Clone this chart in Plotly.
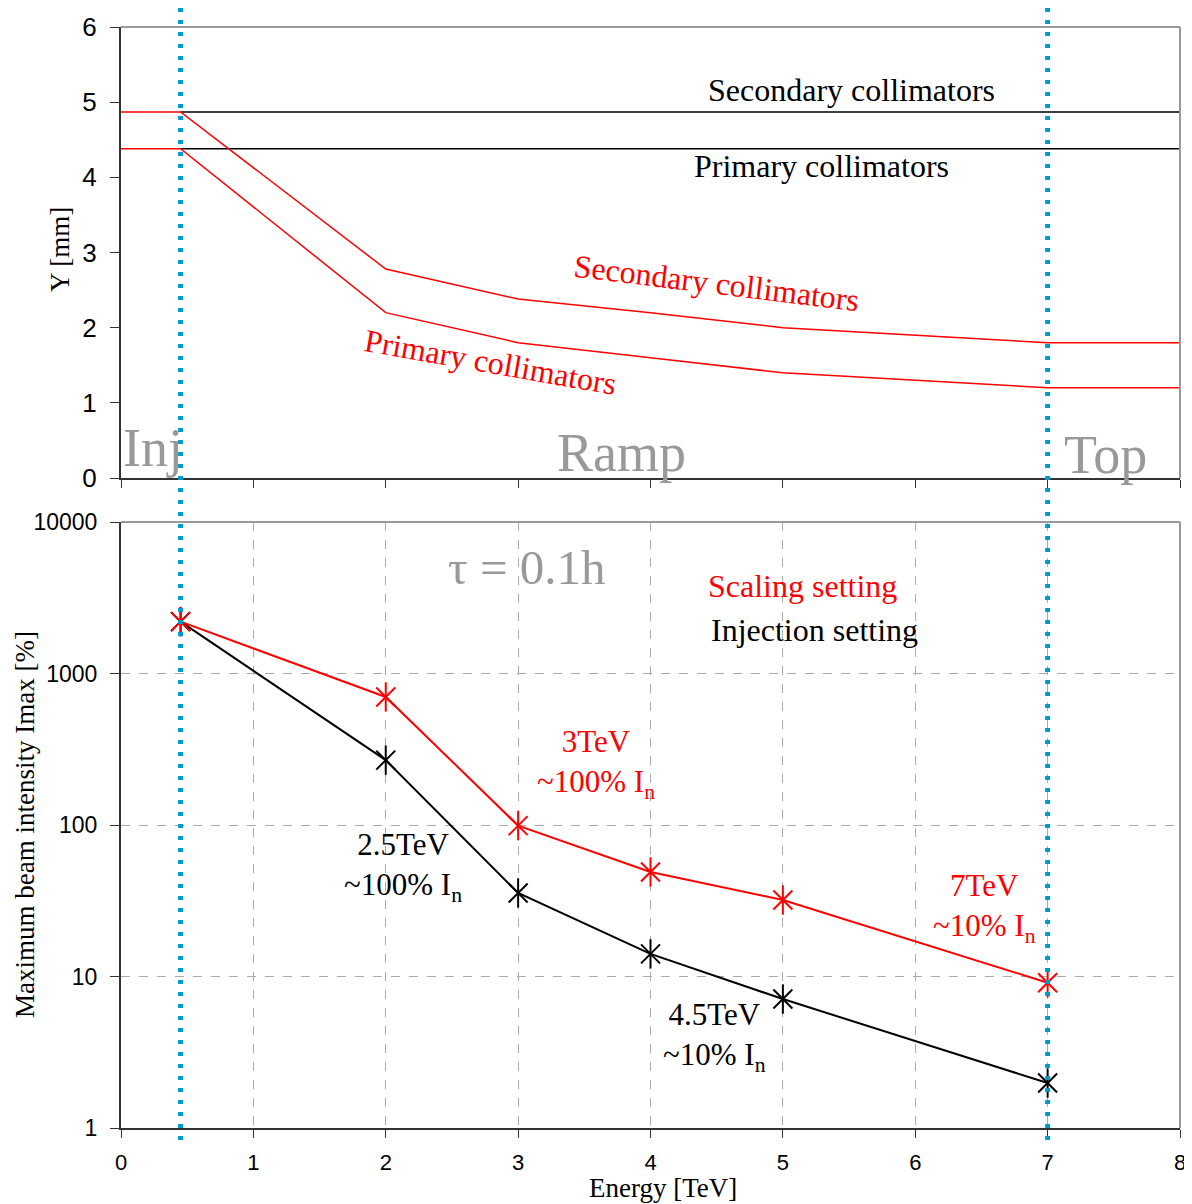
import plotly.graph_objects as go
from plotly.subplots import make_subplots

# ---- data ----
energy_top = [0, 0.45, 2, 3, 4, 5, 7, 8]
sec_scaling = [4.87, 4.87, 2.78, 2.38, 2.2, 2.0, 1.8, 1.8]
prim_scaling = [4.38, 4.38, 2.2, 1.8, 1.6, 1.4, 1.2, 1.2]
energy_inj = [0.45, 8]
sec_inj = [4.87, 4.87]
prim_inj = [4.38, 4.38]

energy = [0.45, 2, 3, 4, 5, 7]
imax_scaling = [2200, 700, 99, 49, 32, 9.1]
imax_injection = [2200, 268, 35.6, 14.1, 7.1, 1.98]

y_top_ticks = [0, 1, 2, 3, 4, 5, 6]
y_bot_ticks = [1, 10, 100, 1000, 10000]
y_bot_labels = ["1", "10", "100", "1000", "10000"]
x_ticks = [0, 1, 2, 3, 4, 5, 6, 7, 8]
phase_lines = [0.45, 7]

SERIF = "Liberation Serif"
SANS = "Liberation Sans"
RED = "#ff0000"
GRAY = "#999999"
BLUE = "#0099cc"
OX, OY = 8, 8  # page body offset
W, H = 1192 - OX, 1204 - OY


def px(x):
    return (x - OX) / W


def py(y):
    return 1 - (y - OY) / H


fig = make_subplots(rows=2, cols=1)

# top panel
fig.add_trace(go.Scatter(x=energy_inj, y=sec_inj, mode="lines",
                         line=dict(color="black", width=1.5)), row=1, col=1)
fig.add_trace(go.Scatter(x=energy_inj, y=prim_inj, mode="lines",
                         line=dict(color="black", width=1.5)), row=1, col=1)
fig.add_trace(go.Scatter(x=energy_top, y=sec_scaling, mode="lines",
                         line=dict(color=RED, width=1.5)), row=1, col=1)
fig.add_trace(go.Scatter(x=energy_top, y=prim_scaling, mode="lines",
                         line=dict(color=RED, width=1.5)), row=1, col=1)

# bottom panel
for vals, col in [(imax_injection, "black"), (imax_scaling, RED)]:
    fig.add_trace(go.Scatter(x=energy, y=vals, mode="lines",
                             line=dict(color=col, width=2)), row=2, col=1)
    fig.add_trace(go.Scatter(x=energy, y=vals, mode="markers",
                             marker=dict(symbol="x-thin-open", size=19, color=col,
                                         line=dict(color=col, width=2))), row=2, col=1)
    fig.add_trace(go.Scatter(x=energy, y=vals, mode="markers",
                             marker=dict(symbol="line-ns-open", size=21, color=col,
                                         line=dict(color=col, width=2))), row=2, col=1)

fig.update_layout(
    width=W, height=H, showlegend=False,
    template="none",
    paper_bgcolor="white", plot_bgcolor="white",
    margin=dict(l=0, r=0, t=0, b=0),
)

xd = [px(121), px(1180)]
fig.update_xaxes(domain=xd, range=[0, 8], tickvals=x_ticks, showgrid=False,
                 zeroline=False, automargin=False, ticks="outside", ticklen=8,
                 tickcolor="#333", showline=True, linecolor="#333", linewidth=2,
                 mirror=False, ticklabeloverflow="allow")
fig.update_xaxes(showticklabels=False, row=1, col=1)
fig.update_xaxes(showgrid=True, gridcolor="#aaaaaa", griddash="dash", gridwidth=1,
                 ticklabelstandoff=6,
                 tickfont=dict(family=SANS, size=22, color="black"), row=2, col=1)

fig.update_yaxes(domain=[py(478), py(27)], range=[0, 6],
                 tickvals=y_top_ticks, showgrid=False, zeroline=False,
                 automargin=False, ticks="outside", ticklen=9, tickcolor="#333",
                 showline=True, linecolor="#333", linewidth=2, ticklabelstandoff=8,
                 tickfont=dict(family=SANS, size=26, color="black"), row=1, col=1)
fig.update_yaxes(domain=[py(1128), py(522)], type="log",
                 range=[0, 4], tickvals=y_bot_ticks, ticktext=y_bot_labels,
                 showgrid=True, gridcolor="#aaaaaa", griddash="dash", gridwidth=1,
                 zeroline=False, automargin=False, ticks="outside", ticklen=9,
                 tickcolor="#333", showline=True, linecolor="#333", linewidth=2,
                 ticklabelstandoff=8,
                 tickfont=dict(family=SANS, size=23, color="black"), row=2, col=1)

# frame top/right (gray)
for xr, yr in [("x domain", "y domain"), ("x2 domain", "y2 domain")]:
    fig.add_shape(type="line", xref=xr, yref=yr, x0=0, x1=1, y0=1, y1=1,
                  line=dict(color="#999999", width=2))
    fig.add_shape(type="line", xref=xr, yref=yr, x0=1, x1=1, y0=0, y1=1,
                  line=dict(color="#999999", width=2))

# phase dotted lines
for xv in phase_lines:
    fig.add_shape(type="line", xref="x2", yref="paper", x0=xv, x1=xv,
                  y0=py(1140), y1=py(6),
                  line=dict(color=BLUE, width=5, dash="4px,8px"))


def ann(text, x, y, size, color="black", xref="x", yref="y", angle=0, family=SERIF):
    fig.add_annotation(text=text, x=x, y=y, xref=xref, yref=yref, showarrow=False,
                       textangle=angle, font=dict(family=family, size=size, color=color),
                       xanchor="center", yanchor="middle")


# top texts
ann("Secondary collimators", 5.52, 5.16, 32)
ann("Primary collimators", 5.29, 4.15, 32)
ann("Secondary collimators", 4.50, 2.59, 32, RED, angle=7)
ann("Primary collimators", 2.79, 1.54, 32, RED, angle=10)
ann("Inj", 0.24, 0.40, 54, GRAY)
ann("Ramp", 3.78, 0.33, 54, GRAY)
ann("Top", 7.44, 0.31, 54, GRAY)

# bottom texts (log y -> exponent)
ann("τ = 0.1h", 3.07, 3.70, 49, GRAY, "x2", "y2")
ann("Scaling setting", 5.15, 3.578, 32, RED, "x2", "y2")
ann("Injection setting", 5.24, 3.287, 32, "black", "x2", "y2")
ann("3TeV<br>~100% I<sub>n</sub>", 3.59, 2.40, 31, RED, "x2", "y2")
ann("2.5TeV<br>~100% I<sub>n</sub>", 2.13, 1.72, 31, "black", "x2", "y2")
ann("7TeV<br>~10% I<sub>n</sub>", 6.52, 1.45, 31, RED, "x2", "y2")
ann("4.5TeV<br>~10% I<sub>n</sub>", 4.48, 0.60, 31, "black", "x2", "y2")

# axis titles
ann("Y [mm]", px(60), py(250), 27, xref="paper", yref="paper", angle=-90)
ann("Maximum beam intensity Imax [%]", px(25), py(825), 27,
    xref="paper", yref="paper", angle=-90)
ann("Energy [TeV]", px(663), py(1188), 27, xref="paper", yref="paper")

fig.write_html("out.html")
